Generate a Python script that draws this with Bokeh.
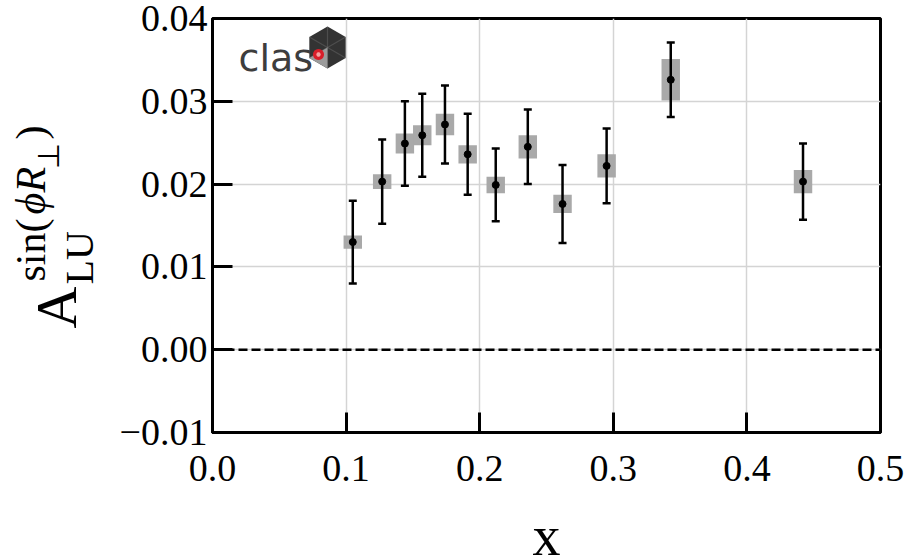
import math
from bokeh.plotting import figure
from bokeh.layouts import row, column
from bokeh.models import (FixedTicker, Span, Label, PolyAnnotation, ColumnDataSource, Range1d)
from bokeh.embed import file_html
from bokeh.resources import INLINE

# ---- data ----
x_vals = [0.105, 0.127, 0.144, 0.157, 0.174, 0.191, 0.212, 0.236, 0.262, 0.295, 0.343, 0.442]
asym = [0.0130, 0.0203, 0.0249, 0.0259, 0.0272, 0.0236, 0.0199, 0.0245, 0.0176, 0.0222, 0.0326, 0.0203]
stat_err = [0.0050, 0.0051, 0.0051, 0.0050, 0.0047, 0.0049, 0.0044, 0.0045, 0.0047, 0.0045, 0.0045, 0.0046]
sys_err = [0.0008, 0.0009, 0.0012, 0.0012, 0.0013, 0.0011, 0.0010, 0.0014, 0.0011, 0.0014, 0.0025, 0.0014]

x_ticks = [0.0, 0.1, 0.2, 0.3, 0.4, 0.5]
x_tick_labels = ["0.0", "0.1", "0.2", "0.3", "0.4", "0.5"]
y_ticks = [-0.01, 0.0, 0.01, 0.02, 0.03, 0.04]
y_tick_labels = ["\u22120.01", "0.00", "0.01", "0.02", "0.03", "0.04"]

W, H = 911, 559
LW = 110                                # width of the y-label strip
HB = 56                                 # height of the x-label strip
HT = H - HB                             # height of the main row
FL, FR, FT, FB = 212, 880, 18, 432      # frame edges in page pixels
SERIF = "Liberation Serif"
MID = 0.34                              # horizontal text: baseline -> anchor (em)
ROT = 0.41                              # rotated text: baseline -> anchor (em)


def blank(width, height):
    f = figure(width=width, height=height, output_backend="svg", toolbar_location=None,
               x_axis_type=None, y_axis_type=None,
               x_range=Range1d(0, width), y_range=Range1d(0, height),
               min_border_left=0, min_border_right=0, min_border_top=0, min_border_bottom=0)
    f.grid.visible = False
    f.outline_line_color = None
    f.background_fill_color = "white"
    f.border_fill_color = "white"
    return f


src = ColumnDataSource(dict(
    x=x_vals, y=asym,
    lo=[a - e for a, e in zip(asym, stat_err)],
    hi=[a + e for a, e in zip(asym, stat_err)],
    h=[2 * s for s in sys_err],
))

p = figure(width=W - LW, height=HT, output_backend="svg", toolbar_location=None,
           x_range=Range1d(0, 0.5), y_range=Range1d(-0.01, 0.04),
           min_border_left=FL - LW, min_border_right=W - FR,
           min_border_top=FT, min_border_bottom=HT - FB)
p.background_fill_color = "white"
p.border_fill_color = "white"
p.outline_line_color = "black"
p.outline_line_width = 3

# grid
p.xgrid.ticker = FixedTicker(ticks=x_ticks)
p.ygrid.ticker = FixedTicker(ticks=y_ticks)
for g in (p.xgrid, p.ygrid):
    g.grid_line_color = "#d4d4d4"
    g.grid_line_width = 1.5

# axes
p.xaxis.ticker = FixedTicker(ticks=x_ticks)
p.yaxis.ticker = FixedTicker(ticks=y_ticks)
p.xaxis.major_label_overrides = {t: l for t, l in zip(x_ticks, x_tick_labels)}
p.yaxis.major_label_overrides = {t: l for t, l in zip(y_ticks, y_tick_labels)}
for ax in (p.xaxis, p.yaxis):
    ax.major_tick_in = 20
    ax.major_tick_out = 0
    ax.minor_tick_line_color = None
    ax.major_tick_line_width = 3
    ax.major_tick_line_color = "black"
    ax.axis_line_width = 3
    ax.axis_line_color = "black"
    ax.major_label_text_font = SERIF
    ax.major_label_text_font_size = "38px"
    ax.major_label_text_color = "black"
p.xaxis.major_label_standoff = 23
p.yaxis.major_label_standoff = 5

# zero line
p.add_layout(Span(location=0, dimension="width", line_color="black",
                  line_width=2.5, line_dash="9 4"))

# systematic boxes, error bars, points
p.rect("x", "y", width=0.0138, height="h", source=src,
       fill_color="#a9a9a9", line_color=None)
p.segment("x", "lo", "x", "hi", source=src, line_color="black", line_width=2.5)
p.scatter("x", "hi", source=src, marker="dash", size=8, line_color="black", line_width=2.5)
p.scatter("x", "lo", source=src, marker="dash", size=8, line_color="black", line_width=2.5)
p.scatter("x", "y", source=src, size=7, fill_color="black", line_color="black")


def sx(px):
    return px - FL


def sy(py):
    return FB - py


# ---- CLAS logo ----
cx, cy, r = 327, 47, 21
hx = [cx + r * math.cos(math.radians(90 + 60 * k)) for k in range(6)]
hy = [cy - r * math.sin(math.radians(90 + 60 * k)) for k in range(6)]
p.add_layout(PolyAnnotation(xs=[sx(v) for v in hx], ys=[sy(v) for v in hy],
                            xs_units="screen", ys_units="screen",
                            fill_color="#333333", fill_alpha=1, line_color=None))
p.add_layout(PolyAnnotation(xs=[sx(cx), sx(hx[2]), sx(hx[3])], ys=[sy(cy), sy(hy[2]), sy(hy[3])],
                            xs_units="screen", ys_units="screen",
                            fill_color="#9c9c9c", fill_alpha=1, line_color=None))
for k in range(6):
    p.add_layout(PolyAnnotation(xs=[sx(cx), sx(hx[k])], ys=[sy(cy), sy(hy[k])],
                                xs_units="screen", ys_units="screen",
                                fill_alpha=0, line_color="#8a8a8a", line_width=1.2))
p.add_layout(Label(x=sx(238), y=sy(70 - MID * 38), x_units="screen", y_units="screen",
                   text="clas", text_font="DejaVu Sans", text_font_size="38px",
                   text_color="#3d3d3d", text_baseline="middle", text_align="left"))
dx, dy = 318, 54
for rad, col in ((5.5, "#d81e2a"), (2.2, "#f4a0a0")):
    p.add_layout(PolyAnnotation(
        xs=[sx(dx + rad * math.cos(2 * math.pi * i / 24)) for i in range(24)],
        ys=[sy(dy + rad * math.sin(2 * math.pi * i / 24)) for i in range(24)],
        xs_units="screen", ys_units="screen",
        fill_color=col, fill_alpha=1, line_color=None))

# ---- y-axis label A_LU^{sin(phi_R_perp)} : rotated pieces in a strip on the left ----
# (the strip's frame is aligned with the main frame: x 0..LW, rows FT..FB)
q = blank(LW, HT)
pieces = [  # text, baseline x (px), start row (px), size, style
    ("A", 80, 328, 58, "normal"),
    ("LU", 95, 284, 40, "normal"),
    ("sin(", 48, 281, 42, "normal"),
    ("\u03d5", 48, 214, 42, "italic"),
    ("R", 48, 192, 42, "italic"),
    ("\u22a5", 60, 168, 30, "normal"),
    (")", 48, 139, 42, "normal"),
]
for txt, bx, by, fs, st in pieces:
    q.add_layout(Label(x=bx - ROT * fs, y=FB - by, x_units="screen", y_units="screen",
                       text=txt, angle=math.pi / 2, text_font=SERIF,
                       text_font_size=f"{fs}px", text_font_style=st,
                       text_color="black", text_baseline="middle", text_align="left"))

# ---- x-axis label in a strip below ----
b = blank(W, HB)
b.add_layout(Label(x=(FL + FR) / 2, y=H - (555 - MID * 56), x_units="screen", y_units="screen",
                   text="x", text_font=SERIF, text_font_size="56px",
                   text_color="black", text_baseline="middle", text_align="center"))

layout = column(row(q, p, spacing=0), b, spacing=0)
open("out.html", "w").write(file_html(layout, INLINE))
